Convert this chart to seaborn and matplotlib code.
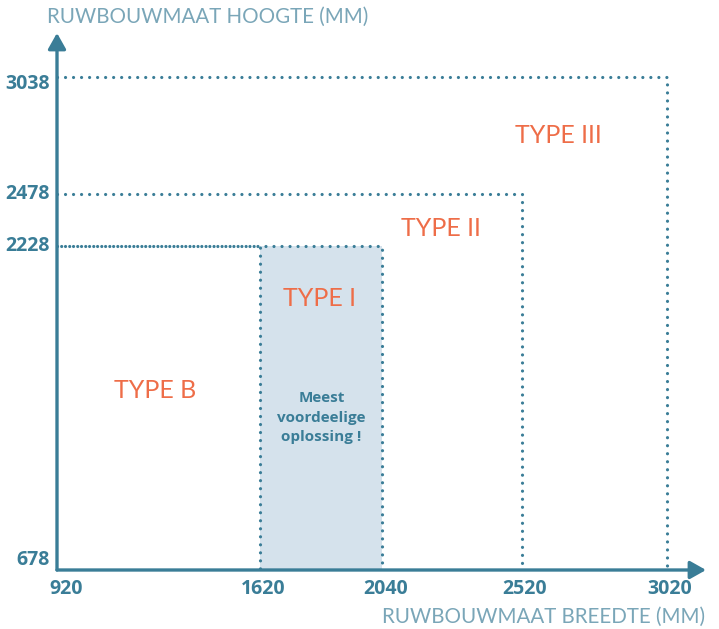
import matplotlib
matplotlib.use("Agg")
import matplotlib.pyplot as plt
import matplotlib.transforms as mtransforms
import seaborn as sns
import pandas as pd

# ---- data ----
types = ["TYPE B", "TYPE I", "TYPE II", "TYPE III"]
widths = [1620, 2040, 2520, 3020]          # ruwbouwmaat breedte (mm)
heights = [2228, 2228, 2478, 3038]         # ruwbouwmaat hoogte (mm)
x_min, y_min = 920, 678
x_ticks = [920, 1620, 2040, 2520, 3020]
y_ticks = [678, 2228, 2478, 3038]
note = "Meest\nvoordeelige\noplossing !"
x_title = "RUWBOUWMAAT BREEDTE (MM)"
y_title = "RUWBOUWMAAT HOOGTE (MM)"

# ---- styles / positions ----
label_pos = {"TYPE B": (1257, 1535), "TYPE I": (1825, 1980),
             "TYPE II": (2242, 2315), "TYPE III": (2645, 2760)}
teal = "#3a7d97"
light_teal = "#7aa6b8"
orange = "#ee6d48"
fill_col = "#d5e2ec"

sns.set_theme(style="white")
plt.rcParams["font.family"] = ["Lato", "DejaVu Sans"]

fig = plt.figure(figsize=(7.19, 6.29), dpi=100)
ax = fig.add_axes([57 / 719, (629 - 570) / 629, 649 / 719, 537 / 629])
x_max = x_min + 649 / 0.2905
y_max = y_min + 537 / 0.2089
ax.set_xlim(x_min, x_max)
ax.set_ylim(y_min, y_max)
for s in ax.spines.values():
    s.set_visible(False)
ax.set_xticks([])
ax.set_yticks([])

# shaded "TYPE I" band
ax.fill_between([widths[0], widths[1]], y_min, heights[1], color=fill_col, lw=0, zorder=1)

# dotted outlines
offsets = [1.2, 0, 0, 0]
for t, w, h, off in zip(types, widths, heights, offsets):
    df = pd.DataFrame({"x": [x_min, w, w], "y": [h, h, y_min]})
    sns.lineplot(data=df, x="x", y="y", sort=False, estimator=None, ax=ax,
                 color=teal, lw=2.3, linestyle=(off, (0.01, 2.5)),
                 dash_capstyle="round", solid_capstyle="round", zorder=3)
ax.set_xlabel("")
ax.set_ylabel("")

# axes with arrows
ax.annotate("", xy=(x_max, y_min), xytext=(x_min, y_min),
            arrowprops=dict(arrowstyle="-|>,head_length=0.8,head_width=0.45",
                            color=teal, lw=2.4, shrinkA=0, shrinkB=0),
            annotation_clip=False, zorder=5)
ax.annotate("", xy=(x_min, y_max), xytext=(x_min, y_min),
            arrowprops=dict(arrowstyle="-|>,head_length=0.8,head_width=0.45",
                            color=teal, lw=2.4, shrinkA=0, shrinkB=0),
            annotation_clip=False, zorder=5)

tick_font = dict(family=["Open Sans", "DejaVu Sans"], fontweight="bold",
                 fontsize=14, color=teal)
for i, v in enumerate(x_ticks):
    dx = 9 if i == 0 else 3
    tr = mtransforms.offset_copy(ax.transData, fig=fig, x=dx, y=-19, units="dots")
    ax.text(v, y_min, str(v), transform=tr, ha="center", va="center",
            clip_on=False, **tick_font)
for i, v in enumerate(y_ticks):
    dy = 10 if i == 0 else (-7 if v == 3038 else 0)
    tr = mtransforms.offset_copy(ax.transData, fig=fig, x=-7, y=dy, units="dots")
    ax.text(x_min, v, str(v), transform=tr, ha="right", va="center",
            clip_on=False, **tick_font)

# type labels
for t in types:
    x, y = label_pos[t]
    ax.text(x, y, t, ha="center", va="center", fontsize=18,
            fontweight="normal", color=orange, zorder=6)

ax.text(1830, 1406, note, ha="center", va="center", fontsize=11,
        family=["Open Sans", "DejaVu Sans"], fontweight="bold",
        color=teal, linespacing=1.5, zorder=6)

# axis titles
fig.text(47 / 719, 1 - 17 / 629, y_title, ha="left", va="center",
         fontsize=14.8, fontweight="normal", color=light_teal)
fig.text(705 / 719, 1 - 617 / 629, x_title, ha="right", va="center",
         fontsize=14.8, fontweight="normal", color=light_teal)

fig.savefig("out.png", dpi=100)
